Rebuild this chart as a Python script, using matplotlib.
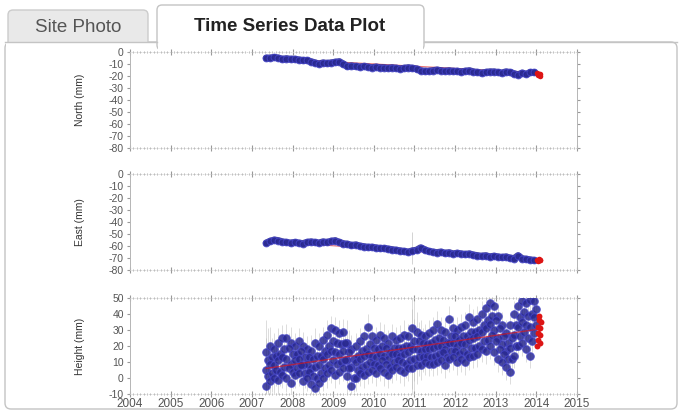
import numpy as np
import matplotlib.pyplot as plt
from matplotlib.patches import FancyBboxPatch, Rectangle

plt.rcParams['font.family'] = ['Liberation Sans', 'DejaVu Sans']
plt.rcParams['axes.unicode_minus'] = False

# sample epochs (decimal year)
epochs = [2007.35, 2007.45, 2007.55, 2007.65, 2007.75, 2007.85, 2007.95,
          2008.05, 2008.15, 2008.25, 2008.35, 2008.45, 2008.55, 2008.65, 2008.75, 2008.85, 2008.95,
          2009.05, 2009.15, 2009.25, 2009.35, 2009.45, 2009.55, 2009.65, 2009.75, 2009.85, 2009.95,
          2010.05, 2010.15, 2010.25, 2010.35, 2010.45, 2010.55, 2010.65, 2010.75, 2010.85, 2010.95,
          2011.05, 2011.15, 2011.25, 2011.35, 2011.45, 2011.55, 2011.65, 2011.75, 2011.85, 2011.95,
          2012.05, 2012.15, 2012.25, 2012.35, 2012.45, 2012.55, 2012.65, 2012.75, 2012.85, 2012.95,
          2013.05, 2013.15, 2013.25, 2013.35, 2013.45, 2013.55, 2013.65, 2013.75, 2013.85, 2013.95]

north = [-5, -5, -4.5, -5, -6, -5.5, -6,
         -6, -6.5, -7, -7, -8, -9, -10, -9, -9.5, -9,
         -8.5, -8, -10, -12, -11.5, -12, -12.5, -12, -12.5, -13,
         -12.5, -13, -13, -13.5, -13, -13.5, -14, -13.5, -13, -13.5,
         -14, -15.5, -16, -16, -15.5, -15, -15.5, -16, -15.5, -16,
         -16, -16.5, -16, -15.5, -16.5, -17, -17.5, -17, -16.5, -16.5,
         -17, -17.5, -16.5, -17, -18, -19, -17.5, -18.5, -17, -17]

east = [-57.5, -56, -55, -55.5, -56.5, -57, -57.5,
        -57, -57.5, -58, -57, -56.5, -57, -57.5, -56.5, -57, -56,
        -55.5, -57, -58, -58.5, -59.5, -59, -60, -60.5, -61, -61,
        -61.5, -62, -62, -62.5, -63, -63.5, -64, -64.5, -65, -64,
        -63.5, -61.5, -63, -64.5, -65, -65.5, -65, -66, -65.5, -66.5,
        -66, -66.5, -67, -66.5, -67.5, -68, -68.5, -68, -69, -68.5,
        -69, -69.5, -69, -70, -70.5, -68, -70.5, -71, -71.5, -72]

h_top = [16, 20, 18, 22, 25, 25, 22, 20, 23, 20, 18, 17, 22, 20, 24, 27, 31,
         30, 28, 29, 22, 18, 20, 23, 26, 32, 26, 24, 27, 25, 22, 26, 24, 25, 27, 26, 31,
         29, 27, 26, 28, 30, 34, 30, 29, 37, 31, 30, 32, 33, 38, 35, 37, 40, 44, 47, 45,
         39, 33, 28, 33, 40, 45, 48, 47, 49, 48]
h_up = [11, 13, 14, 15, 18, 19, 15, 15, 17, 13, 13, 12, 14, 14, 17, 20, 23,
        22, 21, 22, 16, 12, 14, 17, 18, 21, 19, 18, 20, 19, 16, 19, 19, 19, 20, 20, 23,
        23, 22, 21, 22, 24, 25, 24, 22, 26, 26, 24, 26, 26, 29, 29, 30, 33, 36, 39, 36,
        31, 26, 22, 25, 33, 38, 41, 39, 40, 43]
h_mid = [5, 9, 8, 11, 13, 12, 9, 11, 12, 8, 9, 6, 7, 8, 12, 15, 17,
         16, 15, 17, 11, 7, 10, 12, 14, 15, 14, 13, 15, 14, 12, 15, 15, 14, 15, 16, 18,
         18, 17, 18, 18, 19, 20, 20, 18, 22, 22, 20, 22, 21, 24, 25, 26, 29, 31, 34, 30,
         25, 21, 17, 19, 27, 32, 35, 33, 32, 38]
h_low = [1, 3, 5, 4, 7, 6, 4, 6, 8, 3, 4, 1, 0, 3, 6, 8, 11,
         9, 10, 11, 6, 0, 5, 7, 8, 10, 9, 8, 11, 9, 7, 10, 11, 10, 9, 11, 12,
         13, 13, 14, 13, 14, 15, 16, 13, 17, 17, 15, 17, 15, 19, 19, 20, 23, 24, 27, 23,
         18, 15, 12, 12, 20, 26, 29, 25, 23, 33]
h_bot = [-5, -2, 0, -1, 2, 0, -3, 2, 3, -2, 0, -4, -6, -3, 0, 3, 5,
         2, 4, 6, 1, -5, 0, 3, 2, 4, 5, 3, 6, 4, 2, 5, 7, 5, 4, 6, 6,
         8, 8, 10, 9, 9, 10, 11, 8, 12, 13, 10, 12, 10, 13, 14, 15, 18, 17, 20, 16,
         12, 10, 7, 4, 14, 20, 22, 18, 14, 28]
h_err = [20, 12, 10, 9, 8, 9, 10, 8, 8, 9, 8, 10, 9, 8, 8, 9, 8,
         8, 8, 8, 14, 9, 8, 8, 8, 8, 8, 8, 8, 9, 8, 8, 8, 8, 9, 8, 25,
         12, 9, 8, 8, 8, 8, 8, 8, 8, 8, 8, 8, 8, 8, 8, 8, 8, 8, 8, 8,
         8, 8, 8, 8, 8, 8, 8, 8, 8, 8]

# latest (red) solutions
red_t = [2014.02, 2014.04, 2014.06, 2014.08, 2014.10]
north_red = [-17.5, -19, -18, -20, -18.5]
east_red = [-71.5, -72.5, -71, -72, -71.8]
red_th = [2014.02, 2014.03, 2014.04, 2014.05, 2014.06, 2014.07, 2014.08, 2014.09, 2014.10, 2014.11]
height_red = [20, 24, 28, 32, 36, 39, 22, 27, 31, 35]

# linear trends
trend_t = [2007.35, 2014.05]
north_trend = [-5, -17.5]
east_trend = [-56, -71.5]
height_trend = [6, 30.5]

BLUE = '#28288f'
EDGE = '#4545c8'
RED = '#dd1515'

fig = plt.figure(figsize=(6.79, 4.12), dpi=100)

# page background: tabs and content box
bg = fig.add_axes([0, 0, 1, 1])
bg.set_xlim(0, 679)
bg.set_ylim(412, 0)
bg.axis('off')
bg.add_patch(FancyBboxPatch((5, 42), 672, 367, boxstyle='round,pad=0,rounding_size=6',
                            fc='white', ec='#c4c4c4', lw=1.0))
bg.add_patch(FancyBboxPatch((8, 10), 140, 40, boxstyle='round,pad=0,rounding_size=5',
                            fc='#e9e9e9', ec='#cccccc', lw=1.0))
bg.add_patch(Rectangle((6, 42.6), 660, 10, fc='white', ec='none'))
bg.add_patch(FancyBboxPatch((157, 5), 267, 45, boxstyle='round,pad=0,rounding_size=5',
                            fc='white', ec='#c4c4c4', lw=1.0))
bg.add_patch(Rectangle((158, 42.6), 265, 10, fc='white', ec='none'))
bg.plot([5, 157], [42, 42], color='#c4c4c4', lw=1.0)
bg.plot([424, 677], [42, 42], color='#c4c4c4', lw=1.0)
bg.text(78, 27, 'Site Photo', ha='center', va='center', fontsize=13.5, color='#555555')
bg.text(290, 26, 'Time Series Data Plot', ha='center', va='center', fontsize=13.5,
        fontweight='bold', color='#222222')


def style(ax, ylim, yticks, label, show_x):
    ax.set_xlim(2004, 2015)
    ax.set_ylim(*ylim)
    ax.set_yticks(yticks)
    ax.set_xticks(range(2004, 2016))
    ax.set_xticks(np.arange(2004, 2015.001, 1 / 12), minor=True)
    ax.tick_params(axis='x', which='major', direction='inout', length=4, top=True, bottom=True,
                   color='#999999', labelsize=8.5, labelcolor='#555555', labelbottom=show_x, pad=1)
    ax.tick_params(axis='x', which='minor', direction='inout', length=2, top=True, bottom=True,
                   color='#aaaaaa', width=0.6)
    ax.tick_params(axis='y', which='major', direction='out', length=2.5, left=True, right=True,
                   color='#999999', labelsize=7.5, labelcolor='#555555', pad=2)
    for side in ['left', 'right']:
        ax.spines[side].set_color('#b5b5b5')
        ax.spines[side].set_linewidth(0.7)
    for side in ['top', 'bottom']:
        ax.spines[side].set_color('#cccccc')
        ax.spines[side].set_linewidth(0.5)
        ax.spines[side].set_linestyle((0, (1, 2)))
    ax.set_ylabel(label, fontsize=7.5, color='#333333')
    ax.yaxis.set_label_coords(-0.1, 0.5)


ax_n = fig.add_axes([0.1915, 0.6408, 0.6583, 0.233])
ax_e = fig.add_axes([0.1915, 0.3447, 0.6583, 0.233])
ax_h = fig.add_axes([0.1915, 0.0437, 0.6583, 0.233])

# North
ax_n.plot(trend_t, north_trend, color=RED, lw=0.8, alpha=0.6, zorder=1)
ax_n.plot(epochs, north, color=BLUE, lw=5, alpha=0.85, solid_capstyle='round', zorder=2)
ax_n.scatter(epochs, north, s=24, color=BLUE, edgecolor=EDGE, lw=0.7, alpha=0.85, zorder=3)
ax_n.scatter(red_t, north_red, s=16, color=RED, lw=0, zorder=5)
style(ax_n, (-80, 0), range(-80, 1, 10), 'North (mm)', False)

# East
ax_e.vlines([2010.95], [-75], [-48], color='#cccccc', lw=0.6)
ax_e.plot(trend_t, east_trend, color=RED, lw=0.8, alpha=0.6, zorder=1)
ax_e.plot(epochs, east, color=BLUE, lw=5, alpha=0.85, solid_capstyle='round', zorder=2)
ax_e.scatter(epochs, east, s=24, color=BLUE, edgecolor=EDGE, lw=0.7, alpha=0.85, zorder=3)
ax_e.scatter(red_t, east_red, s=16, color=RED, lw=0, zorder=5)
style(ax_e, (-80, 0), range(-80, 1, 10), 'East (mm)', False)

# Height
epochs_half = [t + 0.05 for t in epochs]
rows = [(epochs, h_top), (epochs_half, h_up), (epochs, h_mid), (epochs_half, h_low), (epochs, h_bot)]
for tx, vals in rows:
    ax_h.errorbar(tx, vals, yerr=h_err, fmt='none', ecolor='#b0b0b0', elinewidth=0.5, alpha=0.6)
for tx, vals in rows:
    ax_h.scatter(tx, vals, s=30, color=BLUE, edgecolor=EDGE, lw=0.7, alpha=0.85, zorder=3)
ax_h.plot(trend_t, height_trend, color=RED, lw=1.0, alpha=0.65, zorder=4)
ax_h.scatter(red_th, height_red, s=18, color=RED, lw=0, zorder=5)
style(ax_h, (-10, 50), range(-10, 51, 10), 'Height (mm)', True)

fig.savefig('out.png', dpi=100)
